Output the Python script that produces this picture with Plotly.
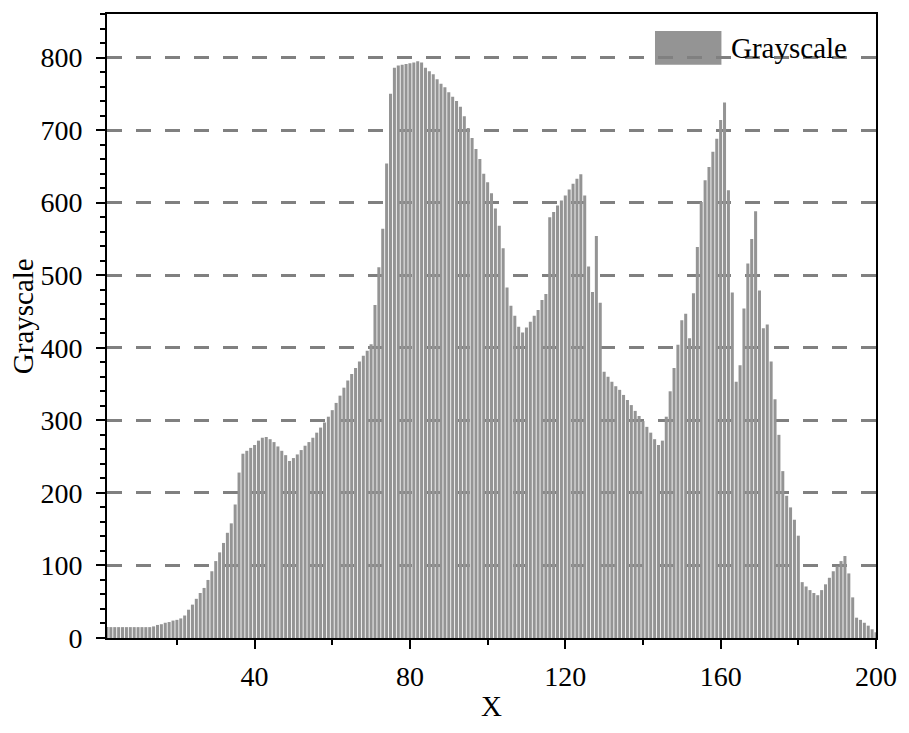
import plotly.graph_objects as go

# ---- data ----
x_index = list(range(1, 201))
grayscale = [
    15, 15, 15, 15, 15, 15, 15, 15, 15, 15,          # 1-10
    15, 15, 15, 16, 18, 19, 21, 22, 24, 25,          # 11-20
    27, 31, 39, 46, 54, 62, 69, 80, 92, 106,         # 21-30
    118, 131, 145, 158, 184, 228, 254, 258, 262, 266,  # 31-40
    272, 276, 277, 274, 270, 264, 258, 252, 244, 248,  # 41-50
    253, 259, 265, 270, 276, 283, 290, 297, 305, 314,  # 51-60
    324, 334, 345, 355, 364, 372, 381, 389, 396, 405,  # 61-70
    459, 511, 564, 654, 750, 786, 789, 790, 791, 792,  # 71-80
    793, 795, 793, 786, 781, 777, 770, 764, 759, 752,  # 81-90
    746, 740, 732, 719, 703, 689, 674, 660, 640, 628,  # 91-100
    613, 592, 568, 537, 483, 458, 444, 429, 421, 428,  # 101-110
    436, 444, 452, 466, 474, 580, 587, 596, 603, 610,  # 111-120
    618, 626, 633, 639, 610, 512, 477, 554, 462, 367,  # 121-130
    360, 353, 347, 342, 335, 328, 321, 313, 306, 299,  # 131-140
    291, 283, 274, 266, 272, 305, 340, 372, 404, 438,  # 141-150
    447, 413, 475, 539, 601, 631, 649, 670, 688, 714,  # 151-160
    738, 617, 476, 353, 376, 454, 516, 550, 588, 479,  # 161-170
    427, 432, 381, 329, 280, 230, 196, 180, 163, 141,  # 171-180
    77, 71, 66, 62, 59, 66, 74, 83, 92, 99,          # 181-190
    106, 113, 89, 56, 28, 25, 21, 17, 12, 8,         # 191-200
]
x_tick_vals = [40, 80, 120, 160, 200]
y_tick_vals = [0, 100, 200, 300, 400, 500, 600, 700, 800]
series_name = "Grayscale"
x_title = "X"
y_title = "Grayscale"

BAR_COLOR = "rgb(148,148,148)"
GRID_COLOR = "rgb(128,128,128)"
FONT = "Liberation Serif, Times New Roman, serif"

fig = go.Figure(
    go.Bar(
        x=x_index,
        y=grayscale,
        name=series_name,
        width=0.78,
        marker=dict(color=BAR_COLOR, line=dict(width=0)),
        showlegend=False,
    )
)

fig.update_layout(
    width=909,
    height=733,
    margin=dict(l=107, r=26, t=12, b=95),
    paper_bgcolor="white",
    plot_bgcolor="white",
    font=dict(family=FONT, size=28, color="black"),
    bargap=0.2,
)

fig.update_xaxes(
    range=[2, 200],
    tickvals=x_tick_vals,
    ticks="outside",
    ticklen=9,
    tickwidth=2,
    tickcolor="black",
    showline=True,
    linewidth=2,
    linecolor="black",
    mirror=True,
    showgrid=False,
    zeroline=False,
    tickfont=dict(family=FONT, size=28, color="black"),
    ticklabelstandoff=3,
    minor=dict(dtick=20, tick0=0, ticks="outside", ticklen=5, tickwidth=2,
               tickcolor="black", showgrid=False),
    layer="above traces",
)

fig.update_yaxes(
    range=[0, 860],
    tickvals=y_tick_vals,
    ticks="outside",
    ticklen=9,
    tickwidth=2,
    tickcolor="black",
    showline=True,
    linewidth=2,
    linecolor="black",
    mirror=True,
    showgrid=True,
    gridcolor=GRID_COLOR,
    gridwidth=2.5,
    griddash="15px,14px",
    zeroline=False,
    tickfont=dict(family=FONT, size=28, color="black"),
    ticklabelstandoff=8,
    minor=dict(dtick=20, tick0=0, ticks="outside", ticklen=5, tickwidth=2,
               tickcolor="black", showgrid=False),
    layer="above traces",
)

# axis titles
fig.add_annotation(text=y_title, xref="paper", yref="paper",
                   x=-0.109, y=0.516, xanchor="center", yanchor="middle",
                   textangle=-90, showarrow=False,
                   font=dict(family=FONT, size=29, color="black"))
fig.add_annotation(text=x_title, xref="paper", yref="paper",
                   x=0.5, y=-0.109, xanchor="center", yanchor="middle",
                   showarrow=False,
                   font=dict(family=FONT, size=29, color="black"))

# legend (swatch + label)
fig.add_shape(type="rect", xref="paper", yref="paper",
              x0=0.7126, x1=0.799, y0=0.9185, y1=0.9728,
              fillcolor=BAR_COLOR, line=dict(width=0), layer="below")
fig.add_annotation(text=series_name, xref="paper", yref="paper",
                   x=0.8093, y=0.945, xanchor="left", yanchor="middle",
                   showarrow=False,
                   font=dict(family=FONT, size=29, color="black"))

fig.write_html("out.html")
